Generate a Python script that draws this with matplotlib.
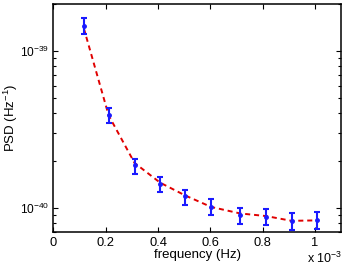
import numpy as np
import matplotlib
matplotlib.use('Agg')
import matplotlib.pyplot as plt
from matplotlib.ticker import LogLocator, NullFormatter, FixedLocator

plt.rcParams['font.family'] = ['Liberation Sans', 'DejaVu Sans']
plt.rcParams['mathtext.fontset'] = 'custom'
plt.rcParams['mathtext.rm'] = 'Liberation Sans'
plt.rcParams['mathtext.it'] = 'Liberation Sans:italic'

# data
freq = np.array([0.116, 0.211, 0.310, 0.408, 0.505, 0.603, 0.714, 0.814, 0.911, 1.010]) * 1e-3
psd = np.array([14.45, 3.89, 1.88, 1.425, 1.197, 1.01, 0.903, 0.877, 0.823, 0.831]) * 1e-40
psd_hi = np.array([16.3, 4.36, 2.04, 1.57, 1.306, 1.14, 1.00, 0.985, 0.92, 0.938]) * 1e-40
psd_lo = np.array([12.8, 3.48, 1.64, 1.256, 1.045, 0.898, 0.792, 0.773, 0.721, 0.736]) * 1e-40
fit = np.array([14.0, 3.89, 1.934, 1.446, 1.196, 1.012, 0.920, 0.885, 0.825, 0.831]) * 1e-40

fig = plt.figure(figsize=(3.46, 2.67), dpi=100)
ax = fig.add_axes([0.1546, 0.131, 0.831, 0.854])

f_mhz = freq * 1e3
ax.plot(f_mhz, fit, color='#e00000', lw=1.4, ls=(0, (2.6, 2.0)), zorder=2)
ax.errorbar(f_mhz, psd, yerr=[psd - psd_lo, psd_hi - psd],
            fmt='.', color='#1a1aff', ms=5, elinewidth=1.5,
            capsize=2.5, capthick=1.5, zorder=3)

ax.set_yscale('log')
ax.set_xlim(0, 1.1)
ax.set_ylim(7e-41, 2e-39)

ax.xaxis.set_major_locator(FixedLocator([0, 0.2, 0.4, 0.6, 0.8, 1.0]))
ax.set_xticklabels(['0', '0.2', '0.4', '0.6', '0.8', '1'])
ax.yaxis.set_major_locator(FixedLocator([1e-40, 1e-39]))
ax.set_yticklabels([r'10$^{-40}$', r'10$^{-39}$'])
ax.yaxis.set_minor_locator(LogLocator(base=10, subs=np.arange(2, 10)))
ax.yaxis.set_minor_formatter(NullFormatter())

ax.tick_params(which='both', direction='in', top=True, right=True,
               labelsize=9.3, width=0.8, pad=3.5)
ax.tick_params(axis='y', labelsize=8.6, pad=3)
ax.tick_params(which='major', length=3.5)
ax.tick_params(which='minor', length=2)
for s in ax.spines.values():
    s.set_linewidth(1.1)

ax.set_xlabel('frequency (Hz)', fontsize=9.5, labelpad=0)
ax.set_ylabel(r'PSD (Hz$^{-1}$)', fontsize=9.5)
ax.yaxis.set_label_coords(-0.115, 0.5)
fig.text(0.988, 4 / 267, r'x 10$^{-3}$', ha='right', va='baseline', fontsize=9)

fig.savefig('out.png', dpi=100)
